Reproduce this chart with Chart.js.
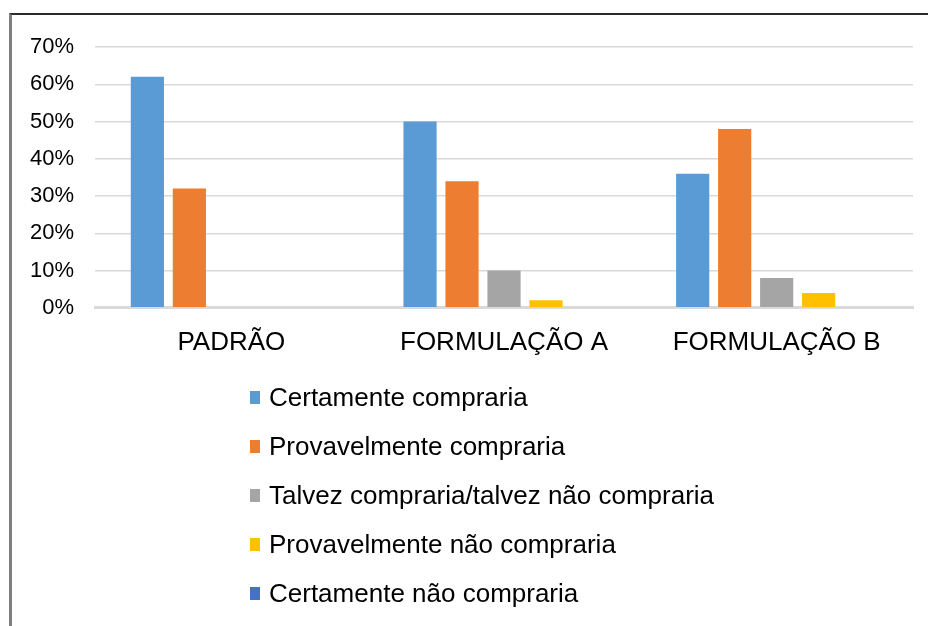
<!DOCTYPE html>
<html>
<head>
<meta charset="utf-8">
<script src="https://cdn.jsdelivr.net/npm/chart.js@4/dist/chart.umd.min.js"></script>
<style>
  html, body { margin: 0; padding: 0; background: #fff; width: 928px; height: 626px; overflow: hidden; }
  #frame { position: absolute; left: 9px; top: 13px; width: 940px; height: 640px;
           border-top: 2px solid #2b2b2b; border-left: 3px solid #7f7f7f; }
  #wrap { position: absolute; left: 0; top: 0; width: 928px; height: 380px; }
  #legend { position: absolute; left: 250px; top: 373px; margin: 0; padding: 0; list-style: none;
            font-family: "Liberation Sans", Arial, sans-serif; font-size: 26px; color: #000; }
  #legend li { height: 49px; display: flex; align-items: center; white-space: nowrap; }
  #legend .box { width: 10px; height: 13px; margin-right: 9px; flex: none; }
</style>
</head>
<body>
<div id="frame"></div>
<div id="wrap"><canvas id="c"></canvas></div>
<ul id="legend"></ul>
<script>
const categories = ['PADRÃO', 'FORMULAÇÃO A', 'FORMULAÇÃO B'];
const seriesNames = ['Certamente compraria', 'Provavelmente compraria', 'Talvez compraria/talvez não compraria', 'Provavelmente não compraria', 'Certamente não compraria'];
const certamenteCompraria = [62, 50, 36];
const provavelmenteCompraria = [32, 34, 48];
const talvezCompraria = [0, 10, 8];
const provavelmenteNaoCompraria = [0, 2, 4];
const certamenteNaoCompraria = [0, 0, 0];
const yTicks = [0, 10, 20, 30, 40, 50, 60, 70];
const colors = ['#5B9BD5', '#ED7D31', '#A5A5A5', '#FFC000', '#4472C4'];

const seriesValues = [certamenteCompraria, provavelmenteCompraria, talvezCompraria, provavelmenteNaoCompraria, certamenteNaoCompraria];
const FONT = '"Liberation Sans", Arial, sans-serif';

const chart = new Chart(document.getElementById('c'), {
  type: 'bar',
  data: {
    labels: categories,
    datasets: seriesNames.map((name, i) => ({
      label: name,
      data: seriesValues[i],
      backgroundColor: colors[i],
      borderWidth: 0,
      barPercentage: 0.79,
      categoryPercentage: 0.77
    }))
  },
  options: {
    responsive: true,
    maintainAspectRatio: false,
    animation: false,
    layout: { padding: { left: 9, right: 15, top: 47, bottom: 3 } },
    plugins: {
      legend: { display: false },
      tooltip: { enabled: false }
    },
    scales: {
      x: {
        grid: { display: false, drawTicks: false },
        border: { display: true, color: '#d9d9d9', width: 3 },
        ticks: { color: '#000', font: { family: FONT, size: 26 }, padding: 19 }
      },
      y: {
        min: 0, max: 70,
        afterBuildTicks: (axis) => { axis.ticks = yTicks.map(v => ({ value: v })); },
        grid: { color: '#d9d9d9', lineWidth: 1.5, drawTicks: false },
        border: { display: false },
        ticks: { color: '#000', font: { family: FONT, size: 22 }, padding: 21, callback: v => v + '%' }
      }
    }
  }
});

const legendEl = document.getElementById('legend');
chart.data.datasets.forEach(ds => {
  const li = document.createElement('li');
  const box = document.createElement('span');
  box.className = 'box';
  box.style.background = ds.backgroundColor;
  const txt = document.createElement('span');
  txt.textContent = ds.label;
  li.appendChild(box);
  li.appendChild(txt);
  legendEl.appendChild(li);
});
</script>
</body>
</html>
